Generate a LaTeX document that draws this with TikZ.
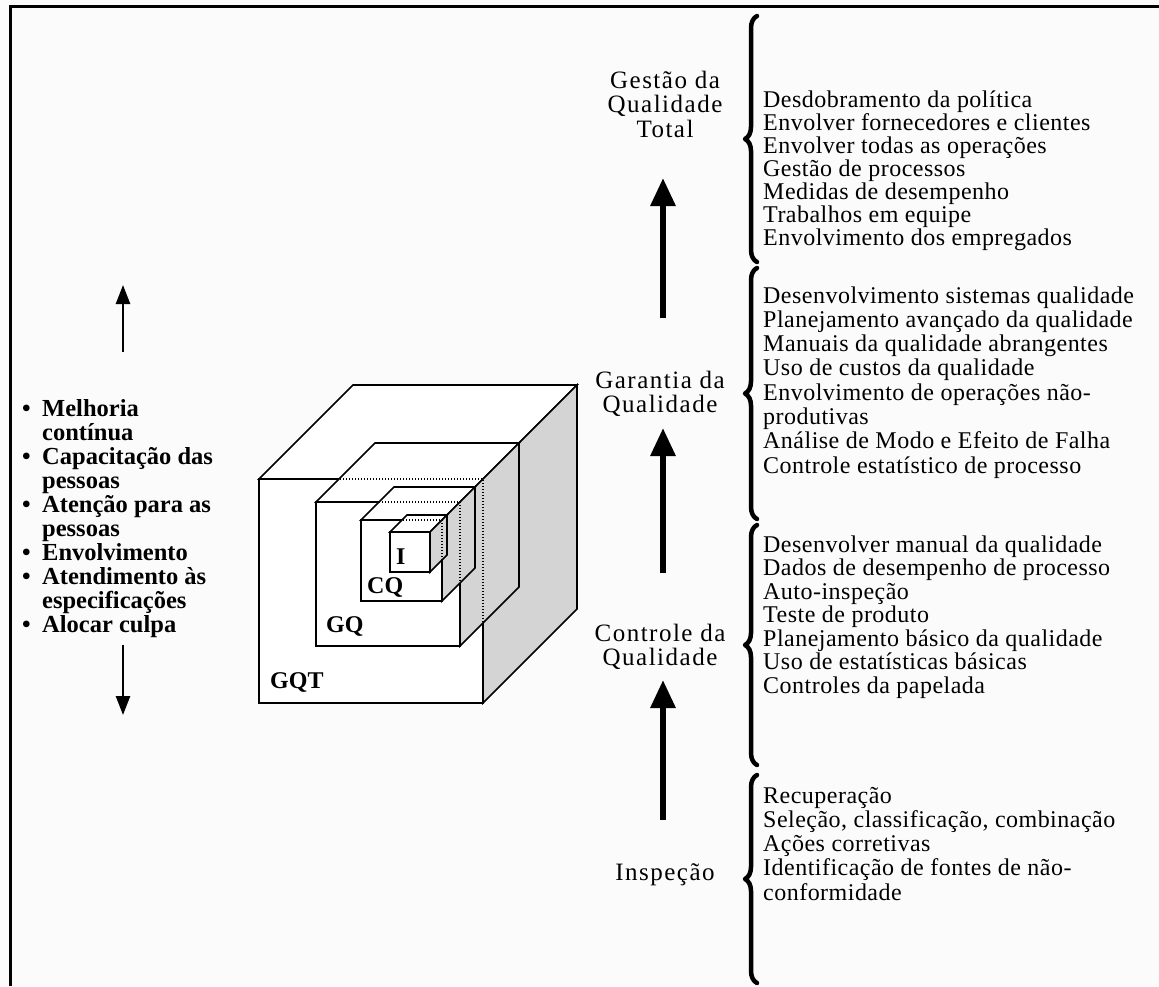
\documentclass[tikz,border=0pt]{standalone}
\usepackage{fontspec}
\setmainfont{Liberation Serif}
\usetikzlibrary{arrows.meta,decorations.pathreplacing}

% front-left x, front-top y, edge size, oblique depth
\newcommand\qcube[4]{%
  \filldraw[edge,fill=white] (#1,#2) rectangle ++(#3,#3);
  \filldraw[edge,fill=white] (#1,#2) -- ++(#4,-#4) -- ++(#3,0) -- ++(-#4,#4) -- cycle;
  \filldraw[edge,fill=sidegray] (#1+#3,#2) -- ++(#4,-#4) -- ++(0,#3) -- ++(-#4,#4) -- cycle;
}
% hidden top and right edges of a front face
\newcommand\qhidden[3]{%
  \draw[hidden] (#1,#2) -- ++(#3,0) -- ++(0,#3);
}

\definecolor{sidegray}{gray}{0.83}
\definecolor{paper}{gray}{0.985}

\begin{document}
\begin{tikzpicture}[x=1pt,y=-1pt,
  edge/.style={line width=1.7pt,line join=miter},
  hidden/.style={line width=1.3pt,dash pattern=on 1.4pt off 1.6pt},
  item/.style={anchor=base west,inner sep=0pt,font=\fontsize{24}{24}\selectfont\addfontfeatures{LetterSpace=2}},
  bitem/.style={anchor=base west,inner sep=0pt,font=\fontsize{24.5}{25}\selectfont\bfseries},
  cubelabel/.style={anchor=base west,inner sep=0pt,font=\fontsize{24}{24}\selectfont\bfseries},
  level/.style={align=center,inner sep=0pt,font=\fontsize{25}{24.5}\selectfont\addfontfeatures{LetterSpace=6}},
  bigarrow/.style={line width=6pt,-{Triangle[width=24pt,length=28pt]}},
  thinarrow/.style={line width=2.5pt,-{Triangle[width=14pt,length=19pt]}},
  curly/.style={line width=4.5pt,line cap=round,line join=round,decorate,
    decoration={brace,amplitude=12pt,raise=0pt}},
]
\useasboundingbox (0,0) rectangle (1159,986);
\fill[paper] (0,0) rectangle (1159,986);

% frame
\draw[line width=3pt] (10.5,986) -- (10.5,6) -- (1159,6);

% nested cubes
\qcube{259}{479}{224}{94}
\qcube{316}{502}{144}{59}
\qhidden{259}{479}{224}
\qcube{361}{520}{81}{33}
\qhidden{316}{502}{144}
\qcube{390}{532}{40}{17}
\qhidden{361}{520}{81}

\node[cubelabel] (lgqt) at (270,688) {GQT};
\node[cubelabel] (lgq)  at (326,632) {GQ};
\node[cubelabel] (lcq)  at (367,593) {CQ};
\node[cubelabel] (li)   at (396,564) {I};

% left column
\coordinate (lup0) at (123,352);
\coordinate (lup1) at (123,285);
\draw[thinarrow] (lup0) -- (lup1);
\foreach \t [count=\i] in {Melhoria,contínua,Capacitação das,pessoas,Atenção para as,pessoas,Envolvimento,Atendimento às,especificações,Alocar culpa}
  \node[bitem] (b\i) at (42,{416+24.1*(\i-1)}) {\t};
\foreach \i in {1,3,5,7,8,10}
  \node[bitem] (dot\i) at (22,{416+24.1*(\i-1)}) {\textbullet};
\coordinate (ldn0) at (123,645);
\coordinate (ldn1) at (123,715);
\draw[thinarrow] (ldn0) -- (ldn1);

% levels
\node[level] (ges) at (665,104) {Gestão da\\Qualidade\\Total};
\node[level] (gar) at (660,394) {Garantia da\\Qualidade};
\node[level] (ctl) at (660,647) {Controle da\\Qualidade};
\node[level] (ins) at (665,875) {Inspeção};

\coordinate (a1s) at (663,318); \coordinate (a1e) at (663,178);
\coordinate (a2s) at (663,573); \coordinate (a2e) at (663,428);
\coordinate (a3s) at (663,820); \coordinate (a3e) at (663,680);
\draw[bigarrow] (a1s) -- (a1e);
\draw[bigarrow] (a2s) -- (a2e);
\draw[bigarrow] (a3s) -- (a3e);

% braces
\coordinate (k1b) at (757,262); \coordinate (k1t) at (757,16);
\coordinate (k2b) at (757,519); \coordinate (k2t) at (757,268);
\coordinate (k3b) at (757,765); \coordinate (k3t) at (757,525);
\coordinate (k4b) at (757,983); \coordinate (k4t) at (757,775);
\draw[curly] (k1b) -- (k1t);
\draw[curly] (k2b) -- (k2t);
\draw[curly] (k3b) -- (k3t);
\draw[curly] (k4b) -- (k4t);

% lists
\foreach \t [count=\i] in {Desdobramento da política,Envolver fornecedores e clientes,Envolver todas as operações,Gestão de processos,Medidas de desempenho,Trabalhos em equipe,Envolvimento dos empregados}
  \node[item] (g\i) at (763,{107+23*(\i-1)}) {\t};
\foreach \t [count=\i] in {Desenvolvimento sistemas qualidade,Planejamento avançado da qualidade,Manuais da qualidade abrangentes,Uso de custos da qualidade,Envolvimento de operações não-,produtivas,Análise de Modo e Efeito de Falha,Controle estatístico de processo}
  \node[item] (q\i) at (763,{303+24.3*(\i-1)}) {\t};
\foreach \t [count=\i] in {Desenvolver manual da qualidade,Dados de desempenho de processo,Auto-inspeção,Teste de produto,Planejamento básico da qualidade,Uso de estatísticas básicas,Controles da papelada}
  \node[item] (c\i) at (763,{552+23.5*(\i-1)}) {\t};
\foreach \t [count=\i] in {Recuperação,{Seleção, classificação, combinação},Ações corretivas,Identificação de fontes de não-,conformidade}
  \node[item] (p\i) at (763,{803+24.25*(\i-1)}) {\t};
\end{tikzpicture}
\end{document}
